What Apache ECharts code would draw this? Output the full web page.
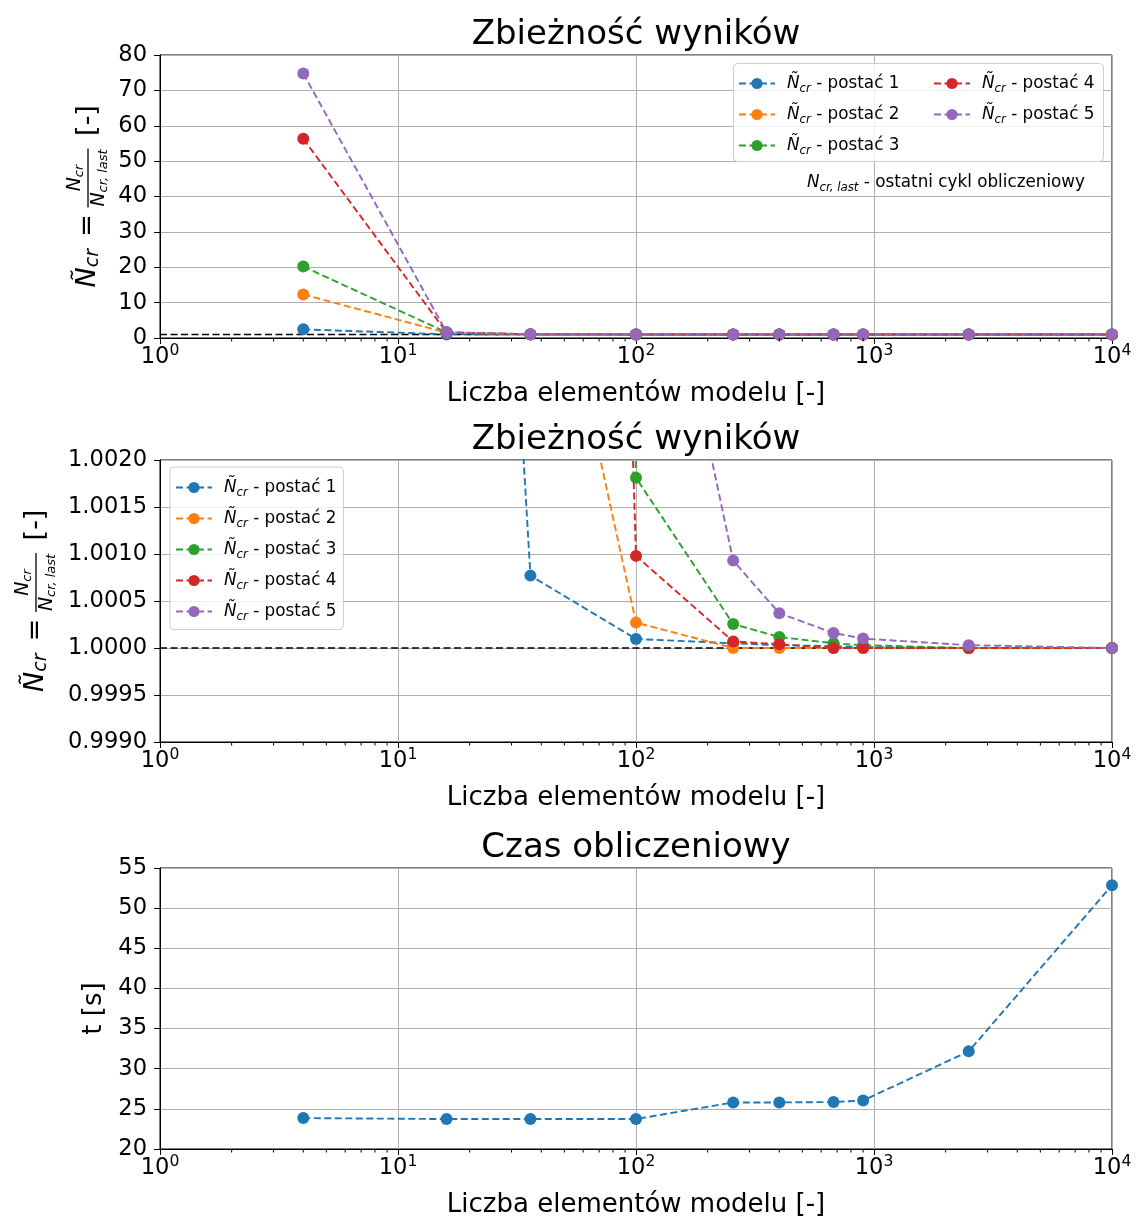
<!DOCTYPE html>
<html><head><meta charset="utf-8">
<script src="https://cdn.jsdelivr.net/npm/echarts@6/dist/echarts.min.js"></script>
<style>html,body{margin:0;padding:0;background:#fff}#c{width:1137px;height:1219px}</style>
</head><body><div id="c"></div>
<script>
// ---- data ----
const elements = [4, 16, 36, 100, 256, 400, 676, 900, 2500, 10000];
const mode1 = [2.45, 1.016, 1.00077, 1.000096, 1.00005, 1.00003, 1.00002, 1.00001, 1.0, 1.0];
const mode2 = [12.3, 1.5, 1.0054, 1.00027, 1.0, 1.0, 1.0, 1.0, 1.0, 1.0];
const mode3 = [20.2, 1.6, 1.08, 1.00181, 1.000255, 1.000117, 1.00005, 1.00003, 1.0, 1.0];
const mode4 = [56.3, 1.55, 1.037, 1.00098, 1.00007, 1.00004, 1.0, 1.0, 1.0, 1.0];
const mode5 = [74.8, 1.6, 1.05, 1.0058, 1.00093, 1.00037, 1.00016, 1.0001, 1.00003, 1.0];
const timeSec = [23.85, 23.73, 23.73, 23.73, 25.8, 25.8, 25.85, 26.04, 32.16, 52.85];
const refX = [1, 10000];
const refY = [1, 1];
const modeNames = ['postać 1', 'postać 2', 'postać 3', 'postać 4', 'postać 5'];
const titles = ['Zbieżność wyników', 'Zbieżność wyników', 'Czas obliczeniowy'];
const xName = 'Liczba elementów modelu [-]';

const modes = [mode1, mode2, mode3, mode4, mode5];
const colors = ['#1f77b4', '#ff7f0e', '#2ca02c', '#d62728', '#9467bd'];
const F = 'DejaVu Sans';

// minor tick positions of the log axis (2..9 in each decade)
const minorTicks = [];
for (let d = 0; d < 4; d++) for (let k = 2; k <= 9; k++) minorTicks.push(k * Math.pow(10, d));

const grids = [
  {left: 160, top: 55, width: 952, height: 283},
  {left: 160, top: 460, width: 952, height: 282},
  {left: 160, top: 868, width: 952, height: 283}
];

function xAxis(i) {
  return {
    type: 'log', logBase: 10, min: 1, max: 10000, gridIndex: i,
    axisLine: {show: true, onZero: false, lineStyle: {color: '#000', width: 1}},
    axisTick: {show: true, length: 6, lineStyle: {color: '#000', width: 1}},
    axisLabel: {
      margin: 5, showMinLabel: true, showMaxLabel: true, hideOverlap: false,
      formatter: v => '{b|10}{s|' + Math.round(Math.log10(v)) + '}',
      rich: {
        b: {fontSize: 22.6, fontFamily: F, color: '#000', lineHeight: 26, verticalAlign: 'bottom'},
        s: {fontSize: 15.6, fontFamily: F, color: '#000', lineHeight: 20, verticalAlign: 'top'}
      }
    },
    splitLine: {show: true, lineStyle: {color: '#b0b0b0', width: 1}},
    minorTick: {show: false},
    name: xName, nameLocation: 'middle', nameGap: 43,
    nameTextStyle: {fontSize: 26, fontFamily: F, color: '#000'}
  };
}
function yAxis(i, min, max, interval, fmt, name) {
  const a = {
    type: 'value', gridIndex: i, min: min, max: max, interval: interval,
    axisLine: {show: true, onZero: false, lineStyle: {color: '#000', width: 1}},
    axisTick: {show: true, length: 6, lineStyle: {color: '#000', width: 1}},
    axisLabel: {margin: 13, fontSize: 22.6, fontFamily: F, color: '#000', formatter: fmt,
      showMinLabel: true, showMaxLabel: true},
    splitLine: {show: true, lineStyle: {color: '#b0b0b0', width: 1}}
  };
  if (name) {
    a.name = name; a.nameLocation = 'middle'; a.nameRotate = 90; a.nameGap = 46.5;
    a.nameTextStyle = {fontSize: 26, fontFamily: F, color: '#000'};
  }
  return a;
}

const dash = [7, 3.5];
function lineSeries(name, xs, ys, color, gi) {
  return {
    type: 'line', name: name, xAxisIndex: gi, yAxisIndex: gi,
    data: xs.map((x, k) => [x, ys[k]]),
    symbol: 'circle', symbolSize: 12, showSymbol: true, clip: true,
    itemStyle: {color: color},
    lineStyle: {color: color, width: 1.9, type: dash},
    emphasis: {disabled: true}, animation: false, z: 3
  };
}
function refSeries(gi) {
  return {
    type: 'line', name: 'ref', xAxisIndex: gi, yAxisIndex: gi,
    data: refX.map((x, k) => [x, refY[k]]), showSymbol: false, symbol: 'none',
    lineStyle: {color: '#000', width: 1.6, type: dash}, clip: true, z: 2,
    emphasis: {disabled: true}, animation: false
  };
}
function minorSeries(gi, yv) {
  return {
    type: 'custom', xAxisIndex: gi, yAxisIndex: gi, silent: true, clip: false, z: 6,
    data: minorTicks.map(v => [v, yv]),
    renderItem: (params, api) => {
      const x = api.coord([api.value(0), api.value(1)])[0];
      const cs = params.coordSys;
      const yb = cs.y + cs.height;
      return {type: 'line', shape: {x1: x, y1: yb, x2: x, y2: yb + 3.5},
        style: {stroke: '#000', lineWidth: 1}};
    },
    animation: false
  };
}

const legendRich = {
  i: {fontSize: 16.8, fontStyle: 'italic', fontFamily: F, color: '#000', lineHeight: 22},
  s: {fontSize: 11.8, fontStyle: 'italic', fontFamily: F, color: '#000', lineHeight: 15, verticalAlign: 'bottom'},
  n: {fontSize: 16.8, fontFamily: F, color: '#000', lineHeight: 22}
};
function legend(left, top, names, boxed) {
  const l = {
    left: left, top: top, orient: 'vertical', data: names, selectedMode: false,
    itemWidth: 36, itemHeight: 14, itemGap: 11.5,
    formatter: n => '{i|Ñ}{s|cr}{n| - ' + n + '}',
    textStyle: {rich: legendRich, padding: [0, 0, 0, 7]},
    z: 10
  };
  if (boxed) {
    l.backgroundColor = 'rgba(255,255,255,0.8)';
    l.borderColor = '#cccccc'; l.borderWidth = 1; l.borderRadius = 4;
    l.padding = [12, 7, 7, 5];
  } else {
    l.padding = 0;
  }
  return l;
}

function yLabel(cx, cy) {
  const big = {fontSize: 27, fontStyle: 'italic', fontFamily: F, fill: '#000', lineHeight: 30};
  const sub = {fontSize: 19, fontStyle: 'italic', fontFamily: F, fill: '#000', lineHeight: 22, verticalAlign: 'bottom'};
  const fb = {fontSize: 19, fontStyle: 'italic', fontFamily: F, fill: '#000', lineHeight: 22};
  const fs = {fontSize: 13, fontStyle: 'italic', fontFamily: F, fill: '#000', lineHeight: 16, verticalAlign: 'bottom'};
  return {
    type: 'group', x: cx, y: cy, rotation: Math.PI / 2, silent: true,
    children: [
      {type: 'text', x: -91, y: 0, style: {text: '{i|Ñ}{s|cr}', rich: {i: big, s: sub}, align: 'left', verticalAlign: 'middle'}},
      {type: 'text', x: -29, y: 0, style: {text: '=', fontSize: 27, fontFamily: F, fill: '#000', align: 'center', verticalAlign: 'middle'}},
      {type: 'text', x: 18.5, y: -13, style: {text: '{i|N}{s|cr}', rich: {i: fb, s: fs}, align: 'center', verticalAlign: 'middle'}},
      {type: 'line', shape: {x1: -11, y1: 0, x2: 48, y2: 0}, style: {stroke: '#000', lineWidth: 1.3}},
      {type: 'text', x: 18.5, y: 11, style: {text: '{i|N}{s|cr, last}', rich: {i: fb, s: fs}, align: 'center', verticalAlign: 'middle'}},
      {type: 'text', x: 76, y: 0, style: {text: '[-]', fontSize: 27, fontFamily: F, fill: '#000', align: 'center', verticalAlign: 'middle'}}
    ]
  };
}

const series = [];
[0, 1].forEach(gi => {
  series.push(refSeries(gi));
  modes.forEach((m, k) => series.push(lineSeries(modeNames[k], elements, m, colors[k], gi)));
});
series.push(lineSeries('czas', elements, timeSec, colors[0], 2));
series.push(minorSeries(0, 0), minorSeries(1, 0.999), minorSeries(2, 20));

const titleGraphics = grids.map((g, i) => ({
  type: 'text', x: g.left + g.width / 2, y: g.top - 20,
  style: {text: titles[i], fontSize: 34, fontFamily: F, fill: '#000', align: 'center', verticalAlign: 'middle'}
}));

const option = {
  animation: false,
  backgroundColor: '#fff',
  grid: grids.map(g => Object.assign({show: true, borderColor: '#000', borderWidth: 1, backgroundColor: 'transparent'}, g)),
  xAxis: [xAxis(0), xAxis(1), xAxis(2)],
  yAxis: [
    yAxis(0, 0, 80, 10, v => String(v)),
    yAxis(1, 0.999, 1.002, 0.0005, v => v.toFixed(4)),
    yAxis(2, 20, 55, 5, v => String(v), 't [s]')
  ],
  legend: [
    legend(738, 75, modeNames.slice(0, 3), false),
    legend(933, 75, modeNames.slice(3, 5), false),
    legend(170, 467, modeNames, true)
  ],
  graphic: [
    {type: 'rect', shape: {x: 733.5, y: 63.5, width: 370, height: 98, r: 4},
     style: {fill: 'rgba(255,255,255,0.8)', stroke: '#cccccc', lineWidth: 1}, z: 8, silent: true},
    {type: 'text', x: 1085, y: 183, z: 9, silent: true,
     style: {text: '{i|N}{s|cr, last}{n| - ostatni cykl obliczeniowy}', rich: {
       i: {fontSize: 16.8, fontStyle: 'italic', fontFamily: F, fill: '#000', lineHeight: 22},
       s: {fontSize: 11.8, fontStyle: 'italic', fontFamily: F, fill: '#000', lineHeight: 15, verticalAlign: 'bottom'},
       n: {fontSize: 16.8, fontFamily: F, fill: '#000', lineHeight: 22}},
       align: 'right', verticalAlign: 'middle'}},
    yLabel(88, 196.5),
    yLabel(36, 601)
  ].concat(titleGraphics),
  series: series
};

const chart = echarts.init(document.getElementById('c'), null, {renderer: 'canvas'});
chart.setOption(option);
</script>
</body></html>
